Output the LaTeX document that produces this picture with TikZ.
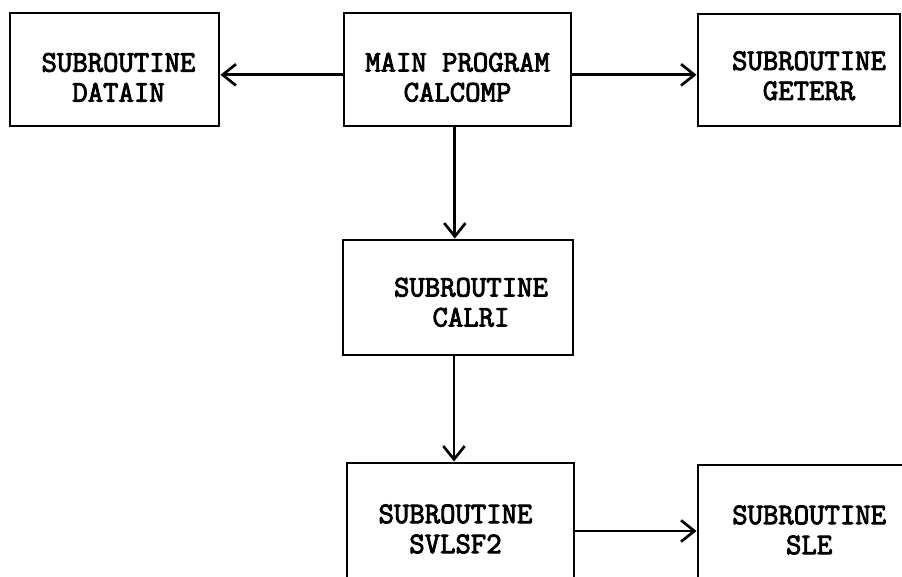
\documentclass[tikz,border=0pt]{standalone}
\usepackage{fontspec}
\newfontfamily\typewr{Latin Modern Mono}[FakeBold=3]
\usetikzlibrary{arrows.meta}

\tikzset{every picture/.style={line width=2pt}}
\tikzset{
  routine/.style={draw, line width=2.2pt, align=center, inner sep=0pt,
    font=\typewr\fontsize{22.4}{22.5}\selectfont},
  call/.style={-{Straight Barb[length=10pt,width=16pt,line width=2pt]}, line width=2.2pt}
}
% pushes the two text lines down inside a box
\newcommand{\lowr}[1]{\rule{0pt}{\dimexpr 13.7pt+#1\relax}}

\begin{document}
\begin{tikzpicture}[x=0.75pt,y=0.75pt,yscale=-1,xscale=1]
\useasboundingbox (0,0) rectangle (902,577);
\clip (0,0) rectangle (902,577);

%Shape: Rectangle [main program]
\node [routine, minimum width=170.25pt, minimum height=84.75pt] (calcomp) at (457.5,69.5) {\lowr{12pt}MAIN PROGRAM\\CALCOMP};
%Shape: Rectangle [datain]
\node [routine, minimum width=156.75pt, minimum height=84.75pt] (datain) at (114.5,69.5) {\lowr{12pt}\hspace*{6pt}SUBROUTINE\\\hspace*{6pt}DATAIN};
%Shape: Rectangle [geterr]
\node [routine, minimum width=151.5pt, minimum height=84pt] (geterr) at (799,70) {\lowr{9pt}\hspace*{15pt}SUBROUTINE\\\hspace*{15pt}GETERR};
%Shape: Rectangle [calri]
\node [routine, minimum width=172.5pt, minimum height=86.25pt] (calri) at (458,297.5) {\lowr{7.5pt}\hspace*{19.5pt}SUBROUTINE\\\hspace*{19.5pt}CALRI};
%Shape: Rectangle [svlsf2]
\node [routine, minimum width=170.25pt, minimum height=99pt] (svlsf2) at (460.5,529) {SUBROUTINE\hspace*{7.5pt}\\SVLSF2\hspace*{7.5pt}};
%Shape: Rectangle [sle]
\node [routine, minimum width=162.75pt, minimum height=97.5pt] (sle) at (806.5,530) {\hspace*{4pt}SUBROUTINE\\\hspace*{4pt}SLE};

%Straight Lines
\draw [call] ([yshift=4pt]calcomp.west) -- ([yshift=4pt]datain.east);
\draw [call] ([yshift=4pt]calcomp.east) -- ([yshift=4pt]calcomp.east -| geterr.west);
\draw [call] ([xshift=-2pt]calcomp.south) -- ([xshift=-2pt]calcomp.south |- calri.north);
\draw [call] ([xshift=-3pt]calri.south) -- ([xshift=-3pt]calri.south |- svlsf2.north);
\draw [call] ([yshift=1.5pt]svlsf2.east) -- ([yshift=1.5pt]svlsf2.east -| sle.west);

\end{tikzpicture}
\end{document}
